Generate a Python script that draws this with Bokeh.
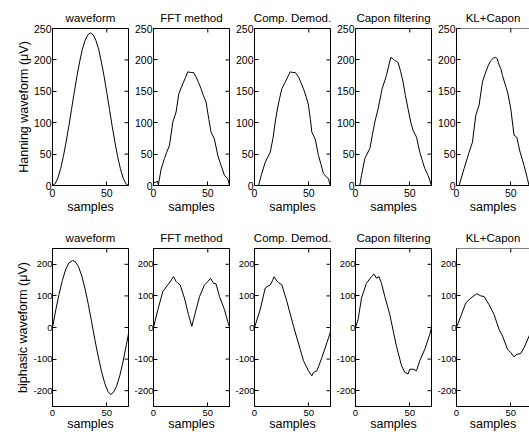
import math
from bokeh.plotting import figure
from bokeh.models import Range1d, FixedTicker, Span
from bokeh.layouts import column, row
from bokeh.embed import file_html
from bokeh.resources import INLINE

FONT = "Liberation Sans"

titles = ["waveform", "FFT method", "Comp. Demod.", "Capon filtering", "KL+Capon"]
row_labels = ["Hanning waveform (\u03bcV)", "biphasic waveform (\u03bcV)"]
x_label = "samples"
x_ticks = [0, 50]
top_y_ticks = [0, 50, 100, 150, 200, 250]
bot_y_ticks = [-200, -100, 0, 100, 200]
bot_y_labels = ["-200", "-100", "0", "100", "200"]

# ---- Hanning row ----
hann_x = [0, 2.5, 5, 7.5, 10, 12.5, 15, 17.5, 20, 22.5, 25, 27.5, 30, 32.5, 35,
          37.5, 40, 42.5, 45, 47.5, 50, 52.5, 55, 57.5, 60, 62.5, 65, 67.5, 70]
hann_y = [0, 3, 12, 27, 46, 69, 94, 121, 148, 174, 197, 217, 231, 240, 243,
          240, 231, 217, 197, 174, 148, 121, 94, 69, 46, 27, 12, 3, 0]

fft_x = [0, 2, 3.5, 4.5, 7, 10.1, 12, 14.7, 16.5, 17.8, 20.8, 23.3, 27, 29.5, 31.6,
         34, 36.8, 39.2, 41.5, 43.8, 46, 48.4, 51, 53, 56.1, 59.2, 62.2, 65.4, 68.4, 70]
fft_y = [5, 5, 7, 1, 26, 43, 52, 64, 85, 101, 117, 146, 162, 172, 181,
         180, 180, 173, 164, 154, 143, 133, 105, 85, 74, 48, 32, 16, 11, 0]

demod_x = [0, 3.7, 6.5, 9.9, 14.5, 17, 19.1, 20.6, 23, 25.2, 27.5, 29.8, 32.9, 35, 37.5,
           40.5, 43, 45.1, 47.5, 49.7, 51.5, 52.8, 55.9, 58.9, 61, 63.5, 66, 68.1, 69.7]
demod_y = [0, 0, 18, 37, 53, 75, 101, 117, 138, 154, 162, 170, 181, 180, 180,
           173, 163, 154, 142, 128, 105, 85, 74, 48, 35, 19, 14, 11, 0]

capon_x = [0, 4, 5.5, 8.6, 13.2, 15.5, 17.8, 20.8, 24.5, 28.5, 30.5, 32.5, 34.5, 36.2,
           37.5, 39.2, 41.5, 43.8, 46, 48.4, 51, 53, 56.2, 59.2, 61.5, 63.8, 66.9, 70]
capon_y = [0, 0, 16, 43, 59, 80, 101, 122, 154, 175, 190, 204, 202, 199,
           198, 196, 182, 165, 143, 122, 100, 88, 77, 53, 40, 27, 16, 0]

kl_x = [0, 2.4, 7, 11.6, 14.7, 17.8, 20.8, 23.9, 27, 29.5, 31.6, 34, 36.2, 37.5, 39.2,
        40.8, 42.4, 45, 47, 50, 53, 55.5, 58.6, 62.2, 65.3, 66.8, 68]
kl_y = [0, 0, 27, 53, 69, 112, 128, 165, 181, 192, 199, 203, 204, 202, 192,
        186, 175, 160, 149, 122, 80, 77, 53, 32, 11, 0, 0]

# ---- biphasic row ----
sine_x = [0, 3, 6, 9, 12, 15, 18.5, 21, 24, 27, 30, 33, 36, 39, 42, 45, 48, 51,
          53.5, 56, 59, 62, 65, 68, 70]
sine_y = [0, 55, 105, 148, 182, 204, 212, 208, 192, 163, 122, 73, 18, -38, -90,
          -137, -175, -202, -212, -206, -186, -152, -108, -55, -20]

fftb_x = [0, 4, 8.6, 13.2, 16, 18.4, 20.8, 22.5, 24.5, 28.5, 32.2, 35.3, 37.7, 42.4,
          47, 50, 52.5, 55.2, 57.6, 60.8, 65.4, 68.7, 70]
fftb_y = [0, 56, 114, 135, 148, 161, 146, 140, 135, 93, 41, 4, 36, 98,
          135, 145, 156, 140, 138, 98, 56, 15, 2]

demodb_x = [0, 5.2, 9.9, 14.5, 16.5, 18.1, 20, 22.1, 25.2, 29.8, 35.9, 42.1, 45.1,
            49.7, 52.8, 54.3, 57.5, 62.1, 66.7, 69.7, 70]
demodb_y = [0, 56, 125, 135, 148, 161, 150, 142, 135, 83, 4, -69, -105,
            -137, -153, -142, -137, -95, -48, -17, -10]

caponb_x = [0, 2.4, 5.5, 10.1, 14.7, 17.1, 19.3, 21.7, 23.9, 27, 31.6, 37.7, 42.4,
            45.4, 48.4, 50, 53, 56.2, 59.2, 63.8, 68.4, 70]
caponb_y = [0, 25, 93, 140, 161, 169, 156, 161, 140, 98, 41, -59, -121,
            -142, -147, -132, -132, -137, -105, -69, -22, 0]

klb_x = [0, 4, 8.6, 13.2, 18.7, 22.4, 25.4, 30, 34.6, 39.2, 42.4, 47, 50, 53, 55.5,
         59.2, 62.2, 66.9, 68]
klb_y = [0, 36, 78, 93, 107, 100, 98, 72, 41, -6, -27, -69, -79, -93, -85,
         -82, -64, -27, -18]

X_MAX = 70
TOP_YR = (0, 250)
BOT_YR = (-250, 250)

FRAME_W = 76
LAST_FRAME_W = 73


def style_axis(ax, top_row):
    ax.axis_line_color = "black"
    ax.axis_line_width = 1
    ax.major_tick_line_color = "black"
    ax.major_tick_in = 4
    ax.major_tick_out = 0
    ax.minor_tick_line_color = None
    ax.major_label_text_font = FONT
    ax.major_label_text_color = "black"
    ax.major_label_text_font_size = "10.5px" if top_row else "9.5px"
    ax.axis_label_text_font = FONT
    ax.axis_label_text_font_size = "12.5px"
    ax.axis_label_text_font_style = "normal"
    ax.axis_label_text_color = "black"


def make_panel(i, xs, ys, top_row):
    last = i == 4
    fw = LAST_FRAME_W if last else FRAME_W
    x_end = X_MAX * fw / FRAME_W
    yr = TOP_YR if top_row else BOT_YR
    p = figure(
        frame_width=fw,
        frame_height=157 if top_row else 158,
        min_border_left=52 if i == 0 else 24,
        min_border_right=0 if last else 1,
        min_border_top=28 if top_row else 27,
        min_border_bottom=34 if top_row else 1,
        x_range=Range1d(0, x_end),
        y_range=Range1d(*yr),
        toolbar_location=None,
        output_backend="svg",
        title=titles[i],
        x_axis_label=x_label,
        y_axis_label=row_labels[0 if top_row else 1] if i == 0 else None,
    )
    p.outline_line_color = None if last else "black"
    p.grid.visible = False
    p.background_fill_color = "white"
    p.border_fill_color = "white"
    p.title.align = "center"
    p.title.text_font = FONT
    p.title.text_font_size = "11.5px"
    p.title.text_font_style = "normal"
    p.title.text_color = "black"
    p.title.padding = (0, 0, 3 if top_row else 5, 0)

    yticks = top_y_ticks if top_row else bot_y_ticks
    xa = p.xaxis[0]
    ya = p.yaxis[0]
    style_axis(xa, top_row)
    style_axis(ya, top_row)
    xa.ticker = FixedTicker(ticks=x_ticks)
    ya.ticker = FixedTicker(ticks=yticks)
    xa.major_label_standoff = 3
    xa.axis_label_standoff = 0 if top_row else -2
    ya.major_label_standoff = 1 if top_row else 0
    ya.axis_label_standoff = 0
    if not top_row:
        ya.major_label_overrides = {t: l for t, l in zip(bot_y_ticks, bot_y_labels)}

    # inward ticks on the top edge (and right edge where it is on the page)
    p.scatter(x_ticks, [yr[1]] * len(x_ticks), marker="dash", angle=math.pi / 2,
              size=8, line_color="black", line_width=1)
    if not last:
        p.scatter([x_end] * len(yticks), yticks, marker="dash",
                  size=8, line_color="black", line_width=1)
    else:
        p.add_layout(Span(location=yr[1], dimension="width",
                          line_color="black", line_width=1))

    p.line(xs, ys, line_color="black", line_width=1)
    return p


top_data = [(hann_x, hann_y), (fft_x, fft_y), (demod_x, demod_y),
            (capon_x, capon_y), (kl_x, kl_y)]
bot_data = [(sine_x, sine_y), (fftb_x, fftb_y), (demodb_x, demodb_y),
            (caponb_x, caponb_y), (klb_x, klb_y)]

top = row([make_panel(i, xs, ys, True) for i, (xs, ys) in enumerate(top_data)], spacing=0)
bot = row([make_panel(i, xs, ys, False) for i, (xs, ys) in enumerate(bot_data)], spacing=0)
layout = column(top, bot, spacing=0)

open("out.html", "w").write(file_html(layout, INLINE))
